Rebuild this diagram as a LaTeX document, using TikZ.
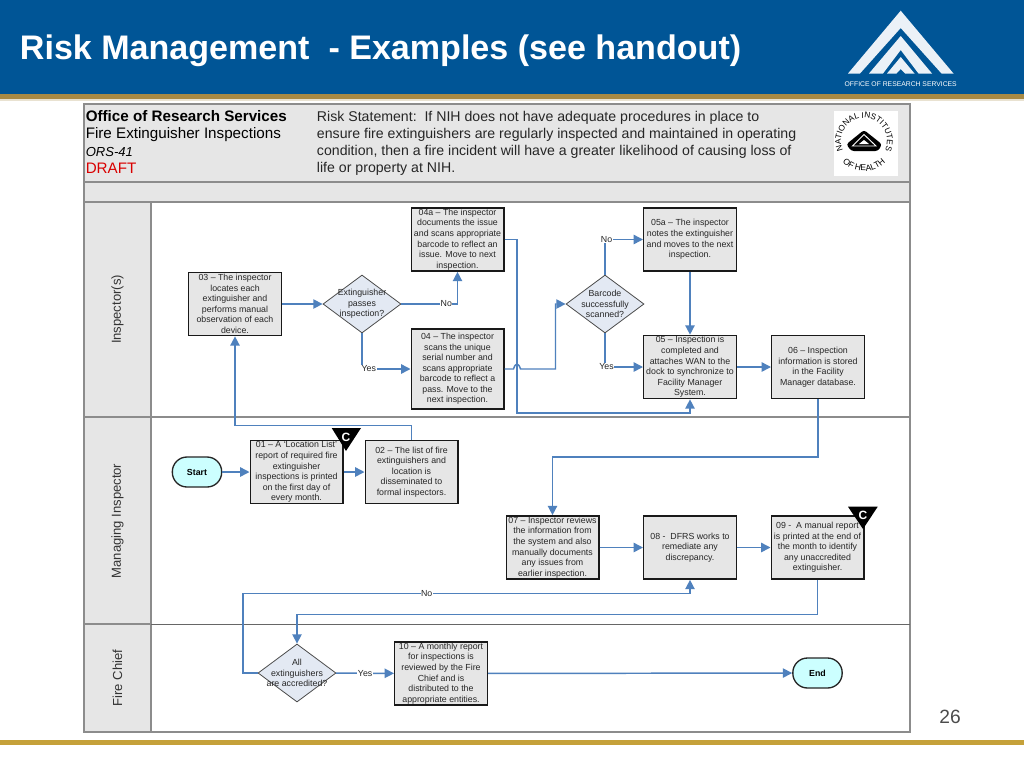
\documentclass[tikz,border=0pt]{standalone}
\usepackage{fontspec}
\setmainfont{Liberation Sans}
\usetikzlibrary{arrows.meta}
\usetikzlibrary{decorations.text}
\usetikzlibrary{shapes.geometric}
\definecolor{slideblue}{HTML}{005596}
\definecolor{slidegold}{HTML}{A88A45}
\definecolor{footgold}{HTML}{C5A13A}
\definecolor{lanegrey}{HTML}{E6E6E6}
\definecolor{frameline}{HTML}{8C8C8C}
\definecolor{flowblue}{HTML}{4F81BD}
\definecolor{decfill}{HTML}{E3E9F3}
\definecolor{termfill}{HTML}{CCFFFF}
\tikzset{
	lane/.style={
		draw=frameline,
		fill=lanegrey,
		line width=0.8pt,
	},
	lanelabel/.style={
		rotate=90,
		text=black!80,
		font=\fontsize{9.8}{11}\selectfont,
	},
	headtext/.style={
		anchor=west,
		inner sep=0pt,
		font=\fontsize{11.4}{12}\selectfont,
	},
	riskline/.style={
		anchor=west,
		inner sep=0pt,
		text=black!85,
		font=\fontsize{10.6}{12}\selectfont,
	},
	proc/.style={
		draw=black!90,
		fill=lanegrey,
		rectangle,
		line width=1.1pt,
		minimum width=69.4pt,
		minimum height=47.4pt,
		inner sep=0pt,
		align=center,
		text=black!85,
		font=\fontsize{6.6}{7.9}\selectfont,
	},
	term/.style={
		draw=black!85,
		fill=termfill,
		rounded corners=11pt,
		line width=1pt,
		minimum width=37pt,
		minimum height=22.5pt,
		inner sep=0pt,
		font=\fontsize{6.6}{7.9}\bfseries\selectfont,
	},
	decision/.style={
		draw=black!70,
		fill=decfill,
		diamond,
		aspect=1.345,
		line width=0.6pt,
		minimum width=58.5pt,
		minimum height=43.5pt,
		inner sep=0pt,
	},
	dectext/.style={
		align=center,
		inner sep=0pt,
		text=black!85,
		font=\fontsize{6.6}{7.9}\selectfont,
	},
	flow/.style={
		draw=flowblue,
		line width=1.1pt,
		-{Triangle[length=7pt,width=7pt]},
	},
	answer/.style={
		fill=white,
		inner sep=0.4pt,
		text=black!85,
		font=\fontsize{6.6}{7.9}\selectfont,
	},
	ctag/.style={
		text=white,
		inner sep=0pt,
		font=\fontsize{9}{9}\bfseries\selectfont,
	},
}

\begin{document}
\begin{tikzpicture}[x=0.75pt,y=-0.75pt]
	\useasboundingbox (0,0) rectangle (1024,768);

	\fill[slideblue] (0,0) rectangle (1024,94);
	\fill[slidegold] (0,94) rectangle (1024,98.5);
	\fill[slidegold!25] (0,98.5) rectangle (1024,100.5);
	\fill[footgold] (0,740) rectangle (1024,745);

	\node[anchor=base west,inner sep=0pt,text=white,font=\fontsize{25.55}{28}\bfseries\selectfont] (title) at (19.7,59.3) {Risk Management\ \ - Examples (see handout)};

	% top corner mark
	\fill[white!92!slideblue] (900.7,10.7) -- (953.5,73.5) -- (941.5,73.5) -- (900.7,28) -- (860,73.5) -- (848,73.5) -- cycle;
	\fill[white!92!slideblue] (900.7,36) -- (932,73.5) -- (918.5,73.5) -- (900.7,50) -- (883,73.5) -- (869,73.5) -- cycle;
	\fill[white!92!slideblue] (900.7,57) -- (914.5,73.5) -- (905,73.5) -- (900.7,69) -- (896.5,73.5) -- (887,73.5) -- cycle;
	\node[text=white,font=\fontsize{5.1}{6}\selectfont] (orsname) at (900.7,84.5) {OFFICE OF RESEARCH SERVICES};

	\node[text=black!70,font=\fontsize{14.4}{16}\selectfont] (pagenum) at (950,717) {26};

%*********

	\draw[lane] (84,104) rectangle (910,182);
	\draw[lane] (84,182) rectangle (910,202);
	\draw[frameline,line width=0.8pt,fill=white] (84,202) rectangle (910,732);
	\draw[lane] (84,202) rectangle (151,417);
	\draw[lane] (84,417) rectangle (151,624);
	\draw[lane] (84,624) rectangle (151,732);
	\draw[frameline,line width=0.8pt] (151,417) -- (910,417);
	\draw[black!60,line width=0.6pt] (151,624) -- (910,624);

	\node[lanelabel] (inspectors) at (117.5,309.5) {Inspector(s)};
	\node[lanelabel] (managing) at (117.5,521) {Managing Inspector};
	\node[lanelabel] (firechief) at (117.5,678) {Fire Chief};

	\node[headtext,font=\fontsize{11.4}{12}\bfseries\selectfont] (office) at (85.5,116.5) {Office of Research Services};
	\node[headtext] (inspections) at (85.5,134.7) {Fire Extinguisher Inspections};
	\node[headtext,font=\fontsize{9.8}{12}\itshape\selectfont] (ors) at (85.5,151.7) {ORS-41};
	\node[headtext,text=red!85!black] (draft) at (85.5,168.5) {DRAFT};

	\node[riskline] (risk1) at (316.7,117.6) {Risk Statement:\ \ If NIH does not have adequate procedures in place to};
	\node[riskline] (risk2) at (316.7,134.6) {ensure fire extinguishers are regularly inspected and maintained in operating};
	\node[riskline] (risk3) at (316.7,151.6) {condition, then a fire incident will have a greater likelihood of causing loss of};
	\node[riskline] (risk4) at (316.7,168.6) {life or property at NIH.};

	% health institutes seal
	\fill[white] (833.5,110.5) rectangle (897.5,176);
	\path[decorate,decoration={text along path,text align=center,text={|\fontsize{6.2}{6}\selectfont|NATIONAL INSTITUTES}}] (844.1,152.5) arc[start angle=-210,end angle=30,radius=23];
	\path[decorate,decoration={text along path,text align=center,text={|\fontsize{6.4}{6}\selectfont|OF HEALTH}}] (839.4,158.2) arc[start angle=-215,end angle=-325,radius=30];
	\fill[black,rounded corners=2pt] (864,130) -- (882,144.3) -- (878,151) -- (851.3,151) -- (846.3,144.3) -- cycle;
	\draw[white,line width=0.7pt] (864,134.5) -- (876,146) -- (852.5,146) -- cycle;
	\fill[white] (864,140) -- (869,144) -- (859,144) -- cycle;

%*********

	\node[proc] (insp03) at (235,304) {03 -- The inspector\\locates each\\extinguisher and\\performs manual\\observation of each\\device.};
	\node[decision,label={[dectext]center:Extinguisher\\passes\\inspection?}] (passes) at (362,304) {};
	\node[proc] (insp04a) at (457.5,239.5) {04a -- The inspector\\documents the issue\\and scans appropriate\\barcode to reflect an\\issue. Move to next\\inspection.};
	\node[proc,minimum height=60pt] (insp04) at (457.5,369) {04 -- The inspector\\scans the unique\\serial number and\\scans appropriate\\barcode to reflect a\\pass. Move to the\\next inspection.};
	\node[decision,label={[dectext]center:Barcode\\successfully\\scanned?}] (scanned) at (605,304) {};
	\node[proc] (insp05a) at (690,239.5) {05a -- The inspector\\notes the extinguisher\\and moves to the next\\inspection.};
	\node[proc] (insp05) at (690,367) {05 -- Inspection is\\completed and\\attaches WAN to the\\dock to synchronize to\\Facility Manager\\System.};
	\node[proc] (insp06) at (818,367) {06 -- Inspection\\information is stored\\in the Facility\\Manager database.};

	\node[term] (start) at (197,472) {Start};
	\node[proc] (mgr01) at (296.5,472) {01 -- A `Location List'\\report of required fire\\extinguisher\\inspections is printed\\on the first day of\\every month.};
	\node[proc] (mgr02) at (411.5,472) {02 -- The list of fire\\extinguishers and\\location is\\disseminated to\\formal inspectors.};
	\node[proc] (mgr07) at (552.5,547.5) {07 -- Inspector reviews\\the information from\\the system and also\\manually documents\\any issues from\\earlier inspection.};
	\node[proc] (mgr08) at (690,547.5) {08 -\ \ DFRS works to\\remediate any\\discrepancy.};
	\node[proc] (mgr09) at (817.5,547.5) {09 -\ \ A manual report\\is printed at the end of\\the month to identify\\any unaccredited\\extinguisher.};

	\node[decision,label={[dectext]center:All\\extinguishers\\are accredited?}] (accredited) at (297,673) {};
	\node[proc] (chief10) at (441,673.5) {10 -- A monthly report\\for inspections is\\reviewed by the Fire\\Chief and is\\distributed to the\\appropriate entities.};
	\node[term] (end) at (817.5,673) {End};

	\fill[black] (331.7,428) -- (361,428) -- (346,451) -- cycle;
	\node[ctag] (ctaga) at (346,437) {C};
	\fill[black] (848,506.7) -- (877.7,506.7) -- (863,529) -- cycle;
	\node[ctag] (ctagb) at (863,515.5) {C};

%*********

	\coordinate (hopin) at (513.5,369);
	\coordinate (hopout) at (520.5,369);
	\coordinate (riser) at (555.5,369);
	\coordinate (feedb) at (517,413);
	\coordinate (feedc) at (411.5,425.7);
	\coordinate (feedd) at (818,457);
	\coordinate (feede) at (817.5,614.7);
	\coordinate (feedf) at (243,593.5);

	\draw[flow] (insp03) -- (passes);
	\draw[flow] (passes.east) -| node[answer,pos=0.4] (ansno) {No} (insp04a.south);
	\draw[flow] (passes.south) |- node[answer,pos=0.57] (ansyes) {Yes} (insp04.west);
	\draw[flow] (insp04.east) -- (hopin) .. controls (515.5,362.5) and (518.5,362.5) .. (hopout) -- (riser) |- (scanned.west);
	\draw[flow] (insp04a.east) -| (feedb) -| (insp05.south);
	\draw[flow] (scanned.north) |- node[answer,pos=0.52] (ansnob) {No} (insp05a.west);
	\draw[flow] (scanned.south) |- node[answer,pos=0.52] (ansyesb) {Yes} (insp05.west);
	\draw[flow] (insp05a) -- (insp05);
	\draw[flow] (insp05) -- (insp06);
	\draw[flow] (insp06.south) |- (feedd) -| (mgr07.north);
	\draw[flow] (start) -- (mgr01);
	\draw[flow] (mgr01) -- (mgr02);
	\draw[flow] (mgr02.north) |- (feedc) -| (insp03.south);
	\draw[flow] (mgr07) -- (mgr08);
	\draw[flow] (mgr08) -- (mgr09);
	\draw[flow] (mgr09.south) |- (feede) -| (accredited.north);
	\draw[flow] (accredited.west) -| (feedf) -| node[answer,pos=0.2055] (ansnoc) {No} (mgr08.south);
	\draw[flow] (accredited) -- node[answer,pos=0.5] (ansyesc) {Yes} (chief10);
	\draw[flow] (chief10) -- (end);

\end{tikzpicture}
\end{document}
